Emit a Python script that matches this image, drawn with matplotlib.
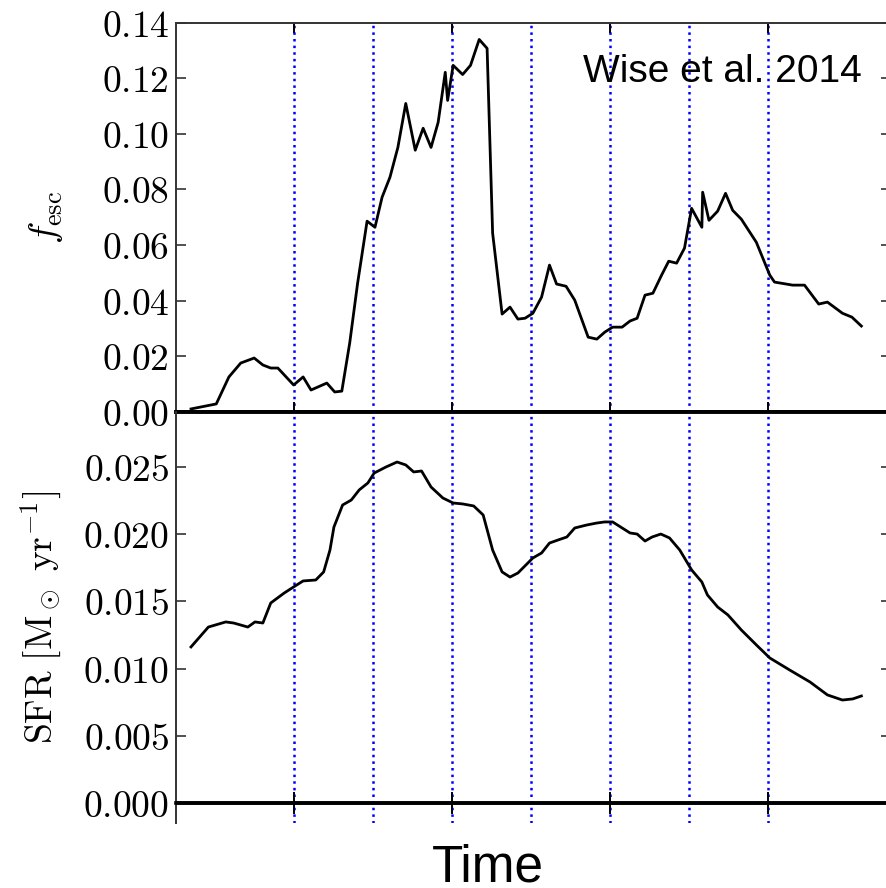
import matplotlib
matplotlib.use("Agg")
import matplotlib.pyplot as plt
from matplotlib.ticker import FuncFormatter, FixedLocator

plt.rcParams["mathtext.fontset"] = "cm"

# Escape fraction versus time
t_fesc = [0.19, 0.51, 0.67, 0.82, 0.99, 1.10, 1.20, 1.29, 1.49, 1.61, 1.71, 1.91,
          2.01, 2.10, 2.20, 2.30, 2.42, 2.52, 2.61, 2.71, 2.81, 2.91, 3.03, 3.13,
          3.23, 3.32, 3.41, 3.44, 3.51, 3.63, 3.73, 3.84, 3.94, 4.01, 4.13, 4.23,
          4.33, 4.42, 4.52, 4.63, 4.73, 4.82, 4.94, 5.05, 5.22, 5.33, 5.43, 5.53,
          5.65, 5.75, 5.84, 5.94, 6.04, 6.15, 6.24, 6.34, 6.44, 6.53, 6.66, 6.67,
          6.75, 6.86, 6.96, 7.05, 7.16, 7.35, 7.52, 7.58, 7.81, 7.96, 8.14, 8.25,
          8.44, 8.56, 8.68]
fesc = [0.0011, 0.0029, 0.0126, 0.0176, 0.0194, 0.0169, 0.0158, 0.0158, 0.0097,
        0.0126, 0.0079, 0.0104, 0.0072, 0.0075, 0.0248, 0.0463, 0.0686, 0.0664,
        0.0772, 0.0844, 0.0951, 0.1109, 0.0941, 0.1020, 0.0951, 0.1041, 0.1221,
        0.1120, 0.1246, 0.1213, 0.1246, 0.1339, 0.1307, 0.0643, 0.0352, 0.0377,
        0.0334, 0.0337, 0.0355, 0.0413, 0.0528, 0.0460, 0.0452, 0.0402, 0.0269,
        0.0262, 0.0287, 0.0305, 0.0305, 0.0327, 0.0337, 0.0420, 0.0427, 0.0492,
        0.0542, 0.0535, 0.0589, 0.0732, 0.0664, 0.0790, 0.0689, 0.0722, 0.0786,
        0.0725, 0.0693, 0.0610, 0.0492, 0.0467, 0.0456, 0.0456, 0.0388, 0.0395,
        0.0355, 0.0341, 0.0309]

# Star formation rate versus time
t_sfr = [0.19, 0.41, 0.63, 0.73, 0.91, 1.00, 1.10, 1.20, 1.37, 1.51, 1.61, 1.77,
         1.87, 1.95, 2.00, 2.11, 2.22, 2.32, 2.43, 2.51, 2.66, 2.80, 2.91, 3.01,
         3.11, 3.23, 3.38, 3.51, 3.63, 3.77, 3.89, 4.01, 4.13, 4.23, 4.33, 4.52,
         4.63, 4.73, 4.84, 4.95, 5.05, 5.20, 5.33, 5.43, 5.53, 5.75, 5.84, 5.94,
         6.03, 6.14, 6.25, 6.38, 6.53, 6.66, 6.73, 6.86, 6.99, 7.16, 7.35, 7.52,
         7.77, 8.03, 8.25, 8.44, 8.57, 8.68]
sfr = [0.01161, 0.01309, 0.01347, 0.01339, 0.01309, 0.01347, 0.01339, 0.01488,
       0.01562, 0.01615, 0.01652, 0.01659, 0.01719, 0.01882, 0.02053, 0.02217,
       0.02254, 0.02329, 0.02381, 0.02455, 0.02500, 0.02537, 0.02515, 0.02463,
       0.02470, 0.02351, 0.02269, 0.02232, 0.02225, 0.02210, 0.02143, 0.01882,
       0.01719, 0.01681, 0.01711, 0.01823, 0.01860, 0.01934, 0.01957, 0.01979,
       0.02046, 0.02068, 0.02083, 0.02091, 0.02091, 0.02009, 0.02001, 0.01949,
       0.01979, 0.02001, 0.01972, 0.01882, 0.01734, 0.01644, 0.01548, 0.01458,
       0.01399, 0.01287, 0.01176, 0.01079, 0.00990, 0.00900, 0.00804, 0.00766,
       0.00774, 0.00796]

# Epoch markers and labelled ticks
epochs = [1.5, 2.5, 3.5, 4.5, 5.5, 6.5, 7.5]
xticks = [1.5, 3.5, 5.5, 7.5]
fesc_ticks = [0.00, 0.02, 0.04, 0.06, 0.08, 0.10, 0.12, 0.14]
sfr_ticks = [0.000, 0.005, 0.010, 0.015, 0.020, 0.025]

W, H = 887, 888
fig = plt.figure(figsize=(W / 100, H / 100), dpi=100)

left = 176 / W
right_px = 891
width = (right_px - 176) / W
ax1 = fig.add_axes([left, (H - 412) / H, width, (412 - 22.5) / H])
ax2 = fig.add_axes([left, (H - 823) / H, width, (823 - 412) / H])
ax2.patch.set_visible(False)

XMAX = 9.03 * (right_px - 176) / (889 - 176)
spine_col = "#333333"

for ax in (ax1, ax2):
    ax.set_xlim(0, XMAX)
    for t in epochs:
        ax.axvline(t, color="b", ls=":", lw=1.8, zorder=1)
    ax.axhline(0, color="k", lw=2.6, zorder=3)
    for s in ax.spines.values():
        s.set_color(spine_col)
        s.set_linewidth(1.4)
    ax.xaxis.set_major_locator(FixedLocator(xticks))
    ax.set_xticklabels([])
    ax.tick_params(axis="y", which="major", direction="in", length=7, width=1.2,
                   left=True, right=True, labelsize=27, pad=5, color=spine_col)

ax1.plot(t_fesc, fesc, color="k", lw=2.0, zorder=4)
ax1.set_ylim(0, 0.14)
ax1.yaxis.set_major_locator(FixedLocator(fesc_ticks))
ax1.yaxis.set_major_formatter(FuncFormatter(lambda v, p: f"${v:.2f}$"))
ax1.tick_params(axis="x", which="major", top=True, bottom=True, direction="in",
                length=7, width=1.4, color="k")
ax1.spines["bottom"].set_linewidth(2.8)
ax1.spines["bottom"].set_color("k")
ax1.set_ylabel(r"$f_{\rm esc}$", fontsize=27)
ax1.yaxis.set_label_coords(-0.155, 0.5)

ax2.plot(t_sfr, sfr, color="k", lw=2.0, zorder=4)
ax2.set_ylim(-0.00149, 0.02909)
ax2.yaxis.set_major_locator(FixedLocator(sfr_ticks))
ax2.yaxis.set_major_formatter(FuncFormatter(lambda v, p: f"${v:.3f}$"))
ax2.spines["bottom"].set_position(("data", 0))
ax2.spines["bottom"].set_linewidth(2.6)
ax2.spines["bottom"].set_color("k")
ax2.spines["top"].set_visible(False)
ax2.tick_params(axis="x", which="major", top=False, bottom=True, direction="inout",
                length=16, width=1.4, color="k")
ax2.set_ylabel(r"${\rm SFR}\ [{\rm M}_\odot\ {\rm yr}^{-1}]$", fontsize=27)
ax2.yaxis.set_label_coords(-0.158, 0.5)

fig.text(862 / W, (H - 82) / H, "Wise et al. 2014", family="Liberation Sans",
         fontsize=28, ha="right", va="baseline")
fig.text(488 / W, (H - 881) / H, "Time", family="Liberation Sans",
         fontsize=37, ha="center", va="baseline")

fig.savefig("out.png", dpi=100)
